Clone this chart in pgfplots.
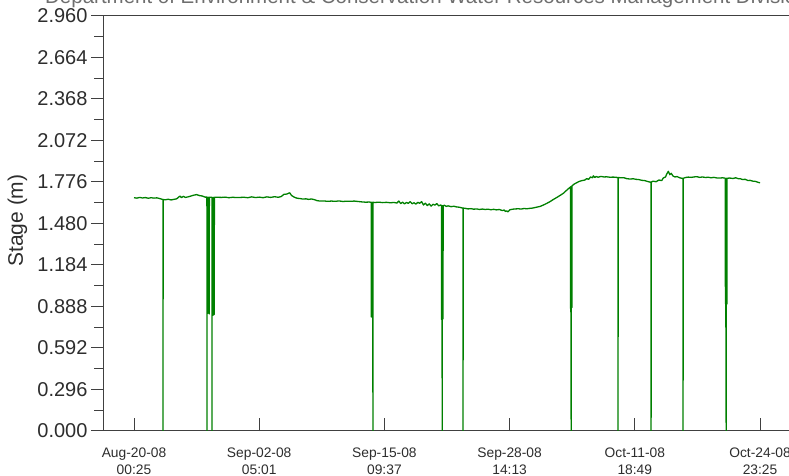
\documentclass[border=0pt]{standalone}
\usepackage{fontspec}
\setmainfont{Liberation Sans}
\usepackage{pgfplots}
\pgfplotsset{compat=1.18}
\usepackage{pgfplotstable}

\definecolor{stageline}{RGB}{0,128,0}
\definecolor{axisgray}{RGB}{64,64,64}
\definecolor{textgray}{RGB}{45,45,45}
\definecolor{titlegray}{RGB}{110,110,110}

% Stage record, x in days since Aug-20-08 00:25
\pgfplotstableread{
day stage
0.00 1.664
0.30 1.661
0.60 1.666
0.90 1.662
1.20 1.665
1.50 1.660
1.80 1.664
2.10 1.661
2.40 1.663
2.70 1.658
3.00 1.652
3.05 1.651
3.06 0.000
3.07 1.651
3.30 1.649
3.60 1.653
3.90 1.648
4.20 1.652
4.50 1.656
4.70 1.668
4.85 1.676
5.00 1.664
5.20 1.674
5.40 1.666
5.70 1.670
6.00 1.676
6.30 1.682
6.60 1.686
6.90 1.679
7.20 1.676
7.50 1.668
7.68 1.668
7.69 0.000
7.70 1.668
7.80 0.840
7.82 1.668
7.92 0.835
7.94 1.667
8.21 1.667
8.22 0.000
8.23 1.667
8.33 0.825
8.35 1.667
8.45 0.830
8.47 1.667
8.80 1.667
9.20 1.666
9.60 1.668
10.00 1.664
10.40 1.667
10.80 1.665
11.20 1.666
11.60 1.667
12.00 1.664
12.40 1.670
12.80 1.665
13.20 1.668
13.60 1.664
14.00 1.670
14.40 1.666
14.80 1.671
15.20 1.667
15.50 1.672
15.80 1.688
16.10 1.690
16.40 1.699
16.60 1.680
16.90 1.667
17.20 1.660
17.50 1.658
17.80 1.654
18.10 1.656
18.40 1.652
18.70 1.655
19.00 1.650
19.30 1.643
19.60 1.640
20.00 1.641
20.40 1.638
20.80 1.640
21.20 1.638
21.60 1.641
22.00 1.637
22.40 1.639
22.80 1.638
23.20 1.640
23.60 1.637
24.00 1.634
24.40 1.632
24.80 1.633
25.00 1.631
25.01 0.813
25.02 1.631
25.10 0.818
25.12 1.631
25.18 0.000
25.19 1.631
25.40 1.630
25.80 1.632
26.20 1.629
26.60 1.631
27.00 1.628
27.40 1.630
27.70 1.626
27.90 1.640
28.10 1.622
28.30 1.632
28.50 1.620
28.70 1.630
28.90 1.624
29.10 1.636
29.30 1.621
29.50 1.628
29.70 1.618
29.90 1.631
30.10 1.624
30.30 1.636
30.50 1.612
30.70 1.625
30.90 1.608
31.10 1.620
31.30 1.604
31.50 1.617
31.70 1.611
31.90 1.622
32.10 1.606
32.30 1.612
32.40 1.608
32.41 0.794
32.42 1.608
32.48 0.000
32.49 1.608
32.56 0.800
32.57 1.606
32.70 1.610
32.90 1.602
33.10 1.606
33.40 1.600
33.70 1.603
34.00 1.598
34.30 1.596
34.50 1.592
34.66 1.590
34.67 0.000
34.68 1.590
34.90 1.588
35.20 1.584
35.50 1.586
35.80 1.582
36.10 1.584
36.40 1.580
36.70 1.583
37.00 1.580
37.30 1.582
37.60 1.578
37.90 1.581
38.20 1.577
38.50 1.580
38.80 1.572
39.00 1.576
39.15 1.566
39.27 1.570
39.40 1.563
39.60 1.578
39.90 1.582
40.20 1.584
40.50 1.585
40.80 1.583
41.10 1.587
41.40 1.585
41.70 1.588
42.00 1.590
42.40 1.596
42.80 1.602
43.20 1.614
43.50 1.624
43.83 1.636
44.10 1.648
44.40 1.660
44.70 1.672
45.00 1.685
45.23 1.695
45.50 1.712
45.80 1.730
45.98 1.740
45.99 0.873
46.00 1.742
46.06 0.000
46.07 1.745
46.14 0.880
46.15 1.748
46.35 1.760
46.64 1.771
46.90 1.780
47.20 1.786
47.50 1.790
47.70 1.800
47.90 1.795
48.10 1.812
48.30 1.806
48.40 1.820
48.55 1.808
48.70 1.815
48.90 1.810
49.20 1.816
49.50 1.812
49.80 1.813
50.15 1.810
50.50 1.811
50.99 1.808
51.00 0.000
51.01 1.808
51.30 1.806
51.60 1.807
51.90 1.800
52.26 1.797
52.60 1.799
52.90 1.795
53.20 1.793
53.50 1.788
53.80 1.786
54.10 1.780
54.37 1.775
54.47 1.776
54.48 0.000
54.49 1.776
54.70 1.782
55.00 1.778
55.30 1.790
55.60 1.786
55.77 1.805
56.00 1.812
56.15 1.836
56.30 1.852
56.45 1.828
56.60 1.838
56.80 1.818
57.00 1.812
57.20 1.815
57.50 1.806
57.75 1.802
57.84 1.802
57.85 0.000
57.86 1.802
58.10 1.808
58.40 1.811
58.70 1.809
59.00 1.812
59.29 1.814
59.60 1.809
59.90 1.812
60.20 1.808
60.50 1.810
60.80 1.806
61.10 1.809
61.40 1.805
61.70 1.804
62.00 1.806
62.30 1.803
62.31 0.909
62.32 1.803
62.39 0.000
62.40 1.803
62.47 0.905
62.48 1.803
62.80 1.804
63.10 1.801
63.40 1.806
63.70 1.799
63.85 1.800
64.10 1.794
64.40 1.795
64.70 1.786
64.90 1.788
65.20 1.782
65.50 1.780
65.78 1.773
65.96 1.770
}\stagedata

\begin{document}
\begin{tikzpicture}[x=1pt,y=1pt]
\begin{axis}[
  at={(104pt,45pt)}, anchor=south west,
  scale only axis, width=696pt, height=415pt,
  xmin=-3.161, xmax=70.17, ymin=0, ymax=2.96,
  axis line style={axisgray, line width=1pt},
  tick align=outside,
  major tick length=13pt, minor tick length=10pt,
  xtick pos=lower, ytick pos=left,
  tick style={axisgray, line width=1pt},
  xtick style={yshift=13pt},
  xtick={0,13.19167,26.38333,39.575,52.76667,65.95833},
  xticklabels={{Aug-20-08\\00:25},{Sep-02-08\\05:01},{Sep-15-08\\09:37},{Sep-28-08\\14:13},{Oct-11-08\\18:49},{Oct-24-08\\23:25}},
  xticklabel style={align=center, font=\fontsize{13.8}{17}\selectfont, text=textgray},
  ytick={0,0.296,0.592,0.888,1.184,1.48,1.776,2.072,2.368,2.664,2.96},
  yticklabels={0.000,0.296,0.592,0.888,1.184,1.480,1.776,2.072,2.368,2.664,2.960},
  minor y tick num=1,
  yticklabel style={font=\fontsize{20}{20}\selectfont, text=textgray},
  ylabel={Stage (m)},
  every axis y label/.style={at={(axis description cs:-0.1243,0.507)}, rotate=90, anchor=center, font=\fontsize{21}{21}\selectfont, text=textgray},
  title={Department of Environment \& Conservation Water Resources Management Division},
  every axis title/.style={at={(axis description cs:-0.0848,1.0313)}, anchor=base west, font=\fontsize{20.5}{20.5}\selectfont, text=titlegray, inner sep=0pt},
]
\addplot[stageline, line width=1.3pt, line join=round] table[x=day, y=stage] {\stagedata};
\end{axis}
% page frame: the axis runs on past the right edge and the heading past the top
\pgfresetboundingbox
\useasboundingbox (0pt,0pt) rectangle (789pt,476pt);
\end{tikzpicture}
\end{document}
